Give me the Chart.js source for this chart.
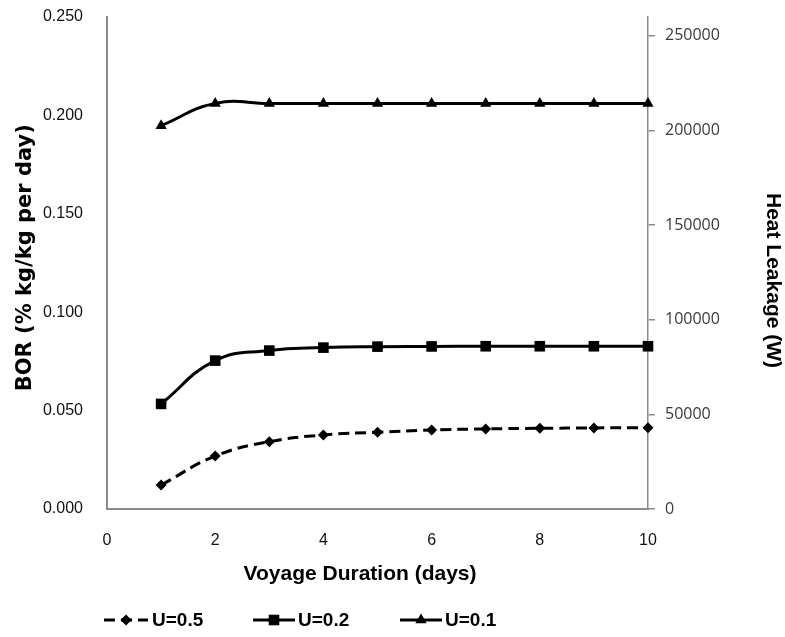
<!DOCTYPE html>
<html><head><meta charset="utf-8">
<script src="https://cdn.jsdelivr.net/npm/chart.js@4/dist/chart.umd.min.js"></script>
<style>html,body{margin:0;padding:0;background:#fff;}#wrap{width:785px;height:637px;}</style>
</head><body><div id="wrap"><canvas id="c" width="785" height="637"></canvas></div>
<script>
// ---- data ----
const days = [1, 2, 3, 4, 5, 6, 7, 8, 9, 10];
const borU05 = [0.0122, 0.0269, 0.0342, 0.0376, 0.0390, 0.0401, 0.0407, 0.0410, 0.0412, 0.0413];
const borU02 = [0.0534, 0.0754, 0.0805, 0.0820, 0.0825, 0.0826, 0.0827, 0.0827, 0.0827, 0.0827];
const borU01 = [0.1948, 0.2061, 0.2061, 0.2061, 0.2061, 0.2061, 0.2061, 0.2061, 0.2061, 0.2061];
const seriesLabels = ['U=0.5', 'U=0.2', 'U=0.1'];
const xTickValues = [0, 2, 4, 6, 8, 10];
const borTickValues = [0, 0.05, 0.10, 0.15, 0.20, 0.25];
const heatTickValues = [0, 50000, 100000, 150000, 200000, 250000];
const xTitle = 'Voyage Duration (days)';
const leftTitle = 'BOR (% kg/kg per day)';
const rightTitle = 'Heat Leakage (W)';

const toPts = arr => days.map((d, i) => ({x: d, y: arr[i]}));
const AXIS = '#8c8c8c';
const ARIAL = "'Liberation Sans', Arial, sans-serif";

const legendPlugin = {
  id: 'bottomLegend',
  afterDraw(chart) {
    const ctx = chart.ctx;
    const y = 620;
    const slots = [{x0: 104, x1: 148, tx: 152}, {x0: 253, x1: 295, tx: 298}, {x0: 400, x1: 442, tx: 445}];
    chart.data.datasets.forEach((ds, i) => {
      const s = slots[i];
      ctx.save();
      ctx.strokeStyle = ds.borderColor;
      ctx.lineWidth = 3;
      ctx.setLineDash(ds.borderDash || []);
      ctx.beginPath();
      ctx.moveTo(s.x0, y); ctx.lineTo(s.x1, y); ctx.stroke();
      ctx.setLineDash([]);
      const cx = (s.x0 + s.x1) / 2;
      const r = ds.pointRadius;
      ctx.fillStyle = ds.pointBackgroundColor;
      ctx.beginPath();
      if (ds.pointStyle === 'rectRot') {
        ctx.moveTo(cx, y - r); ctx.lineTo(cx + r, y); ctx.lineTo(cx, y + r); ctx.lineTo(cx - r, y);
      } else if (ds.pointStyle === 'rect') {
        const h = r * Math.SQRT1_2;
        ctx.rect(cx - h, y - h, 2 * h, 2 * h);
      } else {
        ctx.moveTo(cx, y - r); ctx.lineTo(cx + r * 0.866, y + r / 2); ctx.lineTo(cx - r * 0.866, y + r / 2);
      }
      ctx.closePath(); ctx.fill();
      ctx.fillStyle = '#000';
      ctx.font = "bold 19px " + ARIAL;
      ctx.textBaseline = 'middle';
      ctx.textAlign = 'left';
      ctx.fillText(ds.label, s.tx, y + 1);
      ctx.restore();
    });
  }
};

const mk = (label, arr, style, radius, dash) => ({
  label, data: toPts(arr), yAxisID: 'y',
  borderColor: '#000', backgroundColor: '#000', borderWidth: 3, borderDash: dash,
  pointStyle: style, pointRadius: radius, pointHoverRadius: radius,
  pointBackgroundColor: '#000', pointBorderColor: '#000', pointBorderWidth: 0,
  tension: 0.45, clip: false, fill: false
});

new Chart(document.getElementById('c'), {
  type: 'line',
  data: {
    datasets: [
      mk(seriesLabels[0], borU05, 'rectRot', 5.5, [11, 6]),
      mk(seriesLabels[1], borU02, 'rect', 7.5, []),
      mk(seriesLabels[2], borU01, 'triangle', 6.5, [])
    ]
  },
  options: {
    responsive: false, animation: false, devicePixelRatio: 1,
    layout: {autoPadding: false, padding: {top: 17, left: 0, right: 0, bottom: 50}},
    plugins: {legend: {display: false}, tooltip: {enabled: false}},
    scales: {
      x: {
        type: 'linear', position: 'bottom', min: 0, max: 10,
        afterBuildTicks: s => { s.ticks = xTickValues.map(v => ({value: v})); },
        afterFit: s => { s.height = 78; s.paddingLeft = 0; s.paddingRight = 0; },
        grid: {display: false, drawTicks: false},
        border: {display: true, color: AXIS, width: 2},
        ticks: {padding: 22, color: '#111', font: {family: ARIAL, size: 16}, maxRotation: 0},
        title: {display: true, text: xTitle + '      ', color: '#000', font: {family: ARIAL, size: 21, weight: 'bold'}, padding: {top: 0, bottom: 0}}
      },
      y: {
        type: 'linear', position: 'left', min: 0, max: 0.25,
        afterBuildTicks: s => { s.ticks = borTickValues.map(v => ({value: v})); },
        afterFit: s => { s.width = 107; s.paddingTop = 0; s.paddingBottom = 0; },
        grid: {display: false, drawTicks: false},
        border: {display: true, color: AXIS, width: 2},
        ticks: {padding: 24, color: '#111', font: {family: ARIAL, size: 16}, callback: v => Number(v).toFixed(3)},
        title: {display: true, text: '\u2002' + leftTitle, color: '#000', font: {family: "'DejaVu Sans', sans-serif", size: 21, weight: 'bold'}, padding: {top: 13, bottom: 0}}
      },
      y1: {
        type: 'linear', position: 'right', min: 0, max: 260000,
        afterBuildTicks: s => { s.ticks = heatTickValues.map(v => ({value: v})); },
        afterFit: s => { s.width = 137; s.paddingTop = 0; s.paddingBottom = 0; },
        grid: {display: true, drawOnChartArea: false, drawTicks: true, tickLength: 7, color: AXIS, lineWidth: 1.5},
        border: {display: true, color: AXIS, width: 1.5},
        ticks: {padding: 10, color: '#3a3a3a', font: {family: "'Open Sans', sans-serif", size: 16}, callback: v => String(v)},
        title: {display: true, text: '      ' + rightTitle, color: '#000', font: {family: ARIAL, size: 21, weight: 'bold'}, padding: {top: 0, bottom: 0}}
      }
    }
  },
  plugins: [legendPlugin]
});
</script></body></html>
